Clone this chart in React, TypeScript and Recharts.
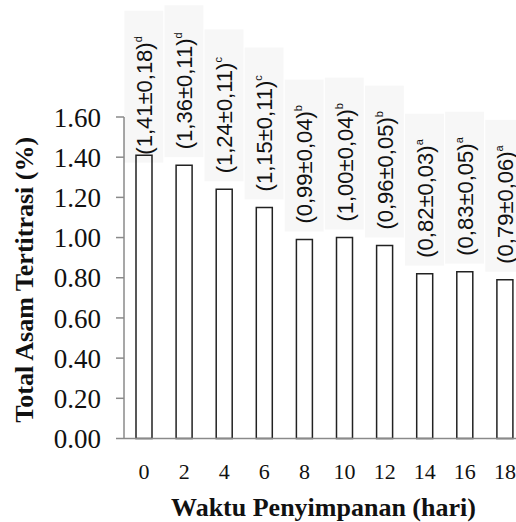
import React from 'react';
import { BarChart, Bar, XAxis, YAxis, LabelList, Label } from 'recharts';

// Storage time (days) and titratable acidity (%) with SD and significance group
const days = ['0', '2', '4', '6', '8', '10', '12', '14', '16', '18'];
const acidity = [1.41, 1.36, 1.24, 1.15, 0.99, 1.0, 0.96, 0.82, 0.83, 0.79];
const deviation = [0.18, 0.11, 0.11, 0.11, 0.04, 0.04, 0.05, 0.03, 0.05, 0.06];
const groups = ['d', 'd', 'c', 'c', 'b', 'b', 'b', 'a', 'a', 'a'];
const yTicks = [0, 0.2, 0.4, 0.6, 0.8, 1.0, 1.2, 1.4, 1.6];

const rows = days.map((day, i) => ({
  day,
  acid: acidity[i],
  sd: deviation[i],
  group: groups[i],
}));

const SERIF = 'Liberation Serif, Tinos, Times New Roman, DejaVu Serif, serif';
const SANS = 'Liberation Sans, Arimo, Arial, sans-serif';
const AXIS_GREY = '#8a8a8a';

const comma = (v: number) => v.toFixed(2).replace('.', ',');

// Vertical "(mean±sd)group" tag above each bar, on a faint grey panel
function Tag(props: any) {
  const { x, y, width, index } = props;
  const row = rows[index];
  if (!row) return null;
  const cx = Number(x) + Number(width) / 2;
  const drop = index === 0 ? 15.5 : 0;
  const bottom = Number(y) - 8 + drop;
  const boxH = 152;
  return (
    <g>
      <rect
        x={cx - 19.7}
        y={bottom - boxH}
        width={39}
        height={boxH}
        fill="#000"
        fillOpacity={0.03}
      />
      <text
        transform={`translate(${cx + 8},${bottom - 8}) rotate(-90)`}
        style={{ fontFamily: SANS, fontSize: 22 }}
        fill="#111"
      >
        <tspan>{`(${comma(row.acid)}±${comma(row.sd)})`}</tspan>
        <tspan style={{ fontSize: 11 }} dy={-10}>
          {row.group}
        </tspan>
      </text>
    </g>
  );
}

function YTitle(props: any) {
  const vb = props.viewBox || {};
  const cy = Number(vb.y) + Number(vb.height) / 2 + 2;
  return (
    <text
      transform={`translate(33,${cy}) rotate(-90)`}
      textAnchor="middle"
      style={{ fontFamily: SERIF, fontWeight: 'bold', fontSize: 26 }}
      fill="#111"
    >
      Total Asam Tertitrasi (%)
    </text>
  );
}

function XTitle(props: any) {
  const vb = props.viewBox || {};
  const cx = Number(vb.x) + Number(vb.width) / 2 - 1;
  const by = Number(vb.y) + Number(vb.height) - 6;
  return (
    <text
      x={cx}
      y={by}
      textAnchor="middle"
      style={{ fontFamily: SERIF, fontWeight: 'bold', fontSize: 26 }}
      fill="#111"
    >
      Waktu Penyimpanan (hari)
    </text>
  );
}

export default function App() {
  return (
    <div
      style={{
        position: 'absolute',
        left: 0,
        top: 0,
        width: 516,
        height: 522,
        overflow: 'hidden',
        background: '#fff',
      }}
    >
      <BarChart
        width={530}
        height={522}
        data={rows}
        margin={{ top: 117, right: 5, bottom: 0, left: 0 }}
      >
        <YAxis
          width={124}
          domain={[0, 1.6]}
          ticks={yTicks}
          interval={0}
          tickFormatter={(v: number) => v.toFixed(2)}
          axisLine={{ stroke: AXIS_GREY, strokeWidth: 1.5 }}
          tickLine={{ stroke: AXIS_GREY, strokeWidth: 1.5 }}
          tickSize={8}
          tickMargin={15}
          tick={{ style: { fontFamily: SERIF, fontSize: 27 }, fill: '#111' }}
        >
          <Label content={YTitle} />
        </YAxis>
        <XAxis
          dataKey="day"
          height={83.5}
          interval={0}
          axisLine={{ stroke: AXIS_GREY, strokeWidth: 1.5 }}
          tickLine={false}
          tickSize={0}
          tickMargin={25}
          tick={{ style: { fontFamily: SERIF, fontSize: 22 }, fill: '#111' }}
        >
          <Label content={XTitle} />
        </XAxis>
        <Bar
          dataKey="acid"
          barSize={16}
          fill="#fff"
          stroke="#222"
          strokeWidth={1.5}
          isAnimationActive={false}
        >
          <LabelList dataKey="acid" content={Tag} />
        </Bar>
      </BarChart>
    </div>
  );
}
